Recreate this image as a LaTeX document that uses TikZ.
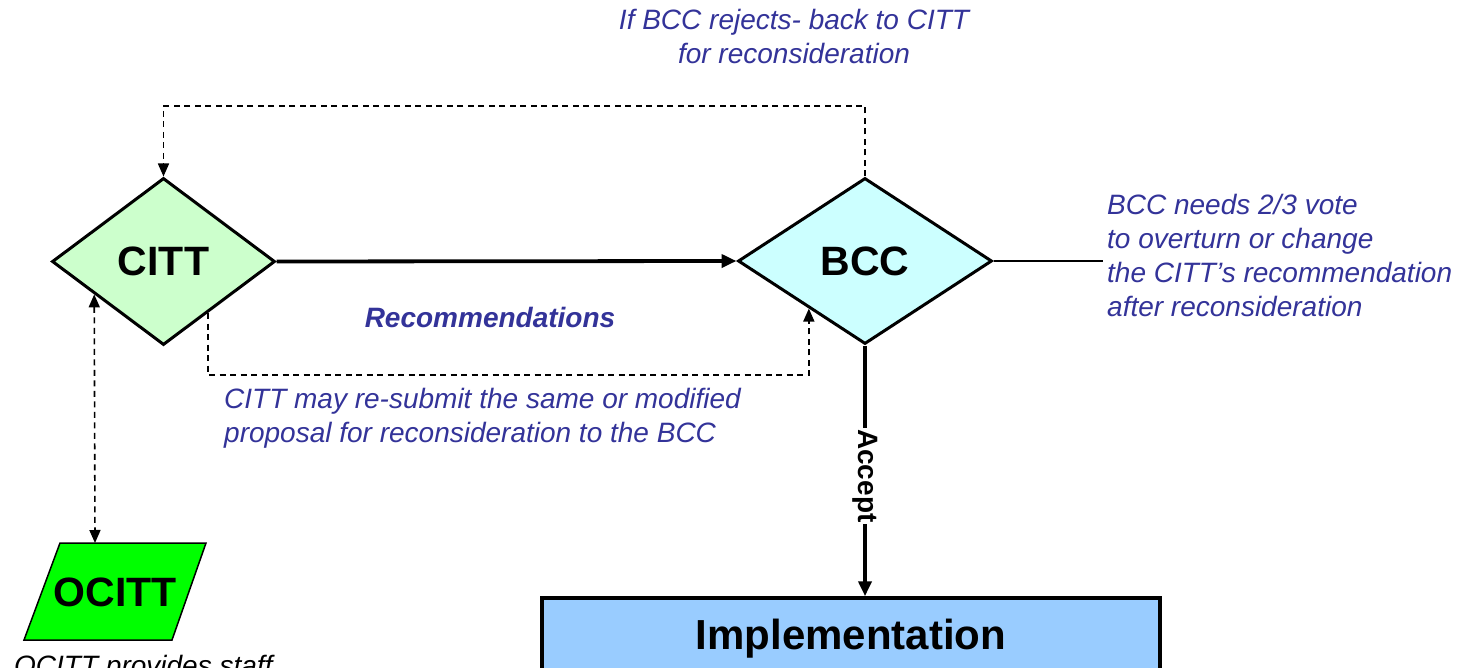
\documentclass[tikz,border=0pt]{standalone}
\usepackage{fontspec}
\setmainfont{Liberation Sans}
\usetikzlibrary{shapes.geometric,arrows.meta,calc}
\definecolor{cittgreen}{HTML}{CCFFCC}
\definecolor{bcccyan}{HTML}{CCFFFF}
\definecolor{impblue}{HTML}{99CCFF}
\definecolor{ocittgreen}{HTML}{00FF00}
\definecolor{notes}{HTML}{333399}
\tikzset{
  decision/.style={diamond, draw, line width=3pt, inner sep=0pt, font=\fontsize{41}{45}\selectfont\bfseries},
  flowline/.style={line width=3.8pt, -{Triangle[length=15pt,width=13pt]}},
  loopline/.style={line width=1.6pt, dash pattern=on 6pt off 4.5pt},
  looptip/.style={-{Triangle[length=13pt,width=11pt]}},
  note/.style={text=notes, font=\fontsize{28}{34}\selectfont\itshape, align=left, inner sep=0pt},
}
\begin{document}
\begin{tikzpicture}[x=1pt,y=-1pt]
\clip (0,0) rectangle (1461,668);
\fill[white] (0,0) rectangle (1461,668);

\node[decision, fill=cittgreen, minimum width=223pt, minimum height=167pt] (citt) at (163.5,261.5) {CITT};
\node[decision, fill=bcccyan, minimum width=254pt, minimum height=166pt] (bcc) at (865,261) {BCC};
\node[draw, line width=3.5pt, fill=impblue, minimum width=618pt, minimum height=82pt, inner sep=0pt,
      font=\fontsize{42}{46}\selectfont\bfseries] (impl) at (851,639) {Implementation};

% OCITT parallelogram
\filldraw[fill=ocittgreen, draw=black, line width=1.5pt] (60,543) -- (206,543) -- (172,640) -- (24,640) -- cycle;
\node[inner sep=0pt, font=\fontsize{41}{45}\selectfont\bfseries] (ocitt) at (115,592) {OCITT};
\coordinate (ocittTop) at (95,543);

% main flow
\draw[flowline] (citt.east) -- (bcc.west);
\draw[flowline] (bcc.south) -- node[pos=0.52, rotate=-90, fill=white, inner sep=1pt,
      font=\fontsize{28}{30}\selectfont\bfseries] (acc) {Accept} (bcc.south |- impl.north);

% BCC note line
\coordinate (noteend) at (1103,261);
\draw[line width=1.2pt] (bcc.east) -- (noteend);

% resubmit loop
\coordinate (cittout) at ($(citt.south)!0.393!(citt.east)$);
\coordinate (bccin) at ($(bcc.west)!0.563!(bcc.south)$);
\draw[loopline, looptip] (cittout) -- (cittout |- 0,375) -- (bccin |- 0,375) -- (bccin);

% reject loop
\draw[loopline, looptip] (bcc.north) -- (bcc.north |- 0,106) -- (citt.north |- 0,106) -- (citt.north);

% OCITT link
\coordinate (cittstaff) at ($(citt.west)!0.387!(citt.south)$);
\draw[loopline, {Triangle[length=13pt,width=11pt]}-{Triangle[length=13pt,width=11pt]}] (cittstaff) -- (ocittTop);

% texts
\node[note, align=center] (reject) at (794,37) {If BCC rejects- back to CITT\\for reconsideration};
\node[note, font=\fontsize{28}{34}\selectfont\bfseries\itshape] (rec) at (490,317) {Recommendations};
\node[note, anchor=west] (resub) at (224,418) {CITT may re-submit the same or modified\\proposal for reconsideration to the BCC};
\node[note, anchor=west] (vote) at (1107,255) {BCC needs 2/3 vote\\to overturn or change\\the CITT’s recommendation\\after reconsideration};
\node[anchor=base west, inner sep=0pt, font=\fontsize{28}{34}\selectfont\itshape] (staff) at (14,675) {OCITT provides staff};
\end{tikzpicture}
\end{document}
